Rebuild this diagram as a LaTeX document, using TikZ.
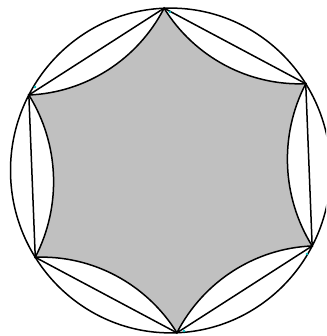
\documentclass[tikz,border=0pt]{standalone}
\usepackage{tikz}
\definecolor{starGray}{RGB}{192,192,192}
\definecolor{markCyan}{RGB}{0,190,190}
\begin{document}
\begin{tikzpicture}[x=1pt,y=1pt,line width=1.5pt]
        \useasboundingbox (0,0) rectangle (326,336);
        \clip (0,0) rectangle (326,336);
        \begin{scope}[shift={(170.5,165.5)},yscale=1.015]
          % Vertices
          \coordinate (v1) at (32.3:160);
          \coordinate (v2) at (92.3:160);
          \coordinate (v3) at (152.3:160);
          \coordinate (v4) at (212.3:160);
          \coordinate (v5) at (272.3:160);
          \coordinate (v6) at (332.3:160);
          % Inner star
          \filldraw[fill=starGray] (v1)
            arc[start angle=272.3,end angle=212.3,radius=160]
            arc[start angle=332.3,end angle=272.3,radius=160]
            arc[start angle=32.3,end angle=-27.7,radius=160]
            arc[start angle=92.3,end angle=32.3,radius=160]
            arc[start angle=152.3,end angle=92.3,radius=160]
            arc[start angle=212.3,end angle=152.3,radius=160] -- cycle;
          % Outer circle
          \draw (0,0) circle[radius=160];
          % Chords
          \draw (v1) -- (v2) -- (v3) -- (v4) -- (v5) -- (v6) -- cycle;
        \end{scope}
        % Markers
        \fill[markCyan] (170,324) circle[radius=1.4];
        \fill[markCyan] (35,249) circle[radius=1.4];
        \fill[markCyan] (184,5) circle[radius=1.4];
        \fill[markCyan] (307,82) circle[radius=1.4];
      \end{tikzpicture}
\end{document}
